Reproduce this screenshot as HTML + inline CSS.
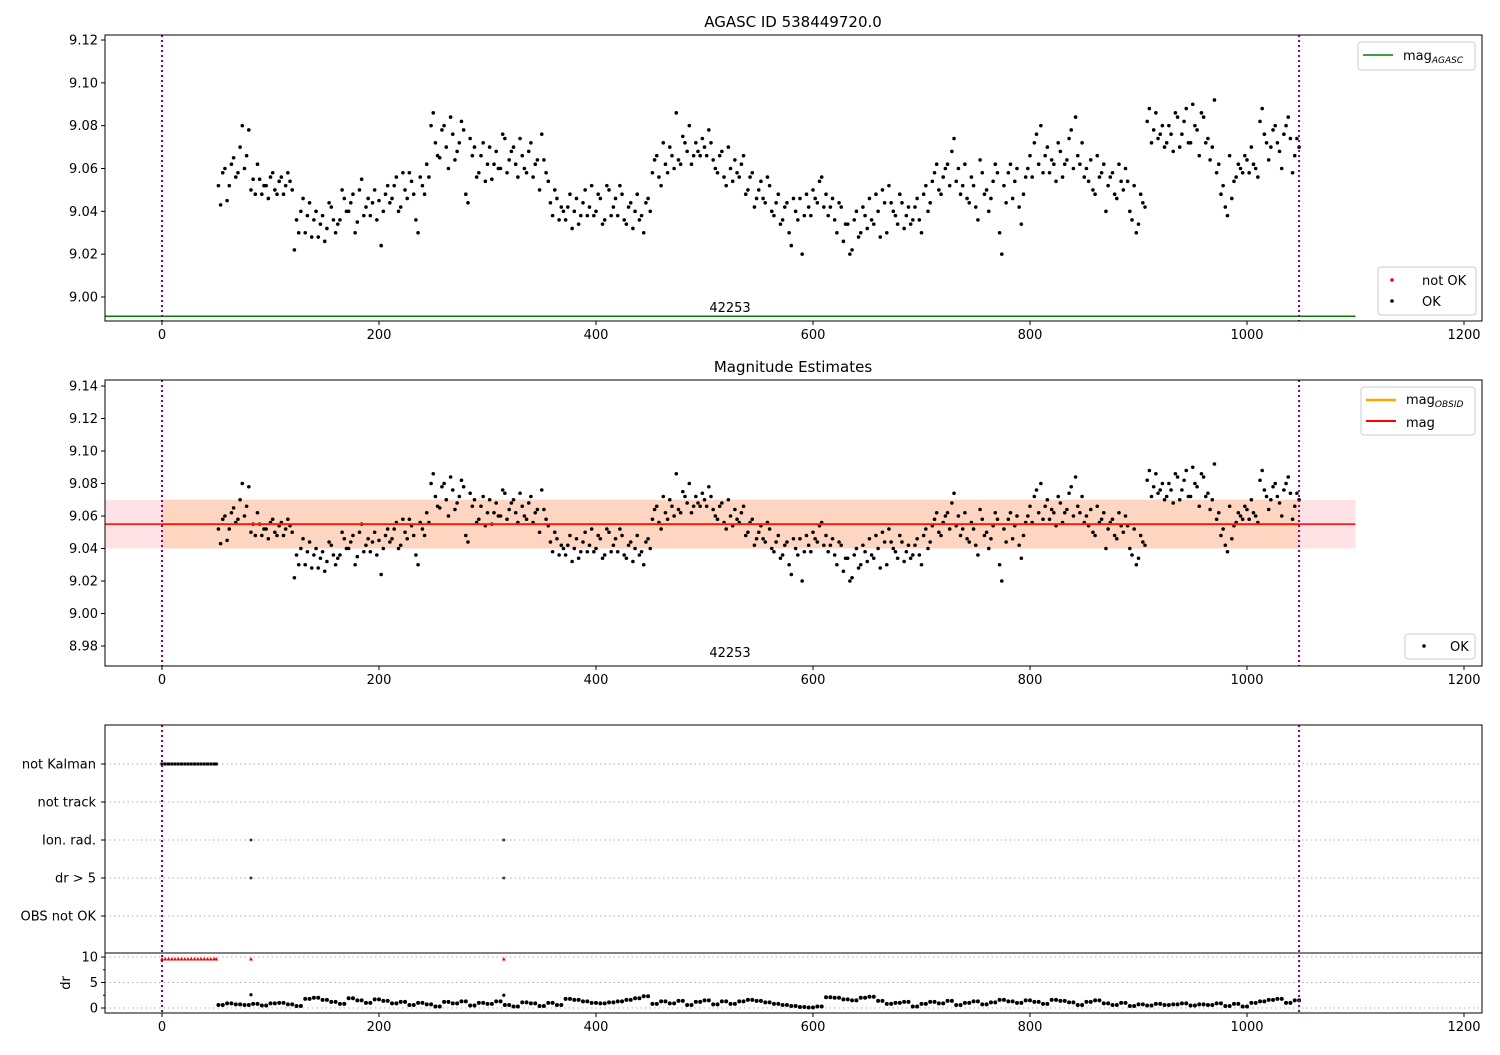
<!DOCTYPE html>
<html><head><meta charset="utf-8"><style>
body{margin:0;background:#fff}
svg text{font-family:"DejaVu Sans","Liberation Sans",sans-serif;font-size:13px;fill:#000}
</style></head><body>
<svg id="c" width="1500" height="1050" xmlns="http://www.w3.org/2000/svg"></svg>
<script>
// data
const magX0 = 52, magStep = 4;
const magOffsets = [
52,58,45,62,56,70,60,78,55,62, 48,52,56,50,54,48,58,50,36,40,
30,44,36,28,38,32,42,30,36,46, 40,48,35,55,42,38,50,45,40,52,
46,56,42,50,58,48,30,52,62,80, 72,65,80,60,76,68,82,48,74,70,
58,72,62,55,68,60,74,64,70,56, 66,58,72,62,50,64,54,38,46,42,
36,48,40,34,44,38,52,40,46,36, 50,42,38,48,34,44,40,36,30,46,
58,66,52,62,70,60,64,75,68,62, 72,66,70,78,64,58,68,52,60,64,
56,66,50,58,46,54,44,52,38,48, 36,44,24,40,46,38,42,50,44,56,
48,42,36,44,26,34,22,40,30,38, 46,34,40,50,30,44,38,48,32,42,
36,46,30,52,44,58,50,56,62,68, 54,48,62,44,52,36,58,50,46,62,
30,52,58,46,60,34,56,66,72,62, 58,70,64,54,68,62,74,60,66,72,
60,64,48,56,62,52,58,46,54,60, 40,52,34,44,82,72,86,76,70,80,
68,84,76,88,72,80,66,84,74,70, 58,48,42,66,54,62,58,64,70,60,
82,76,64,78,72,60,80,74,66,70];
const magX0B = 54;
const magOffsetsB = [
43,60,52,65,58,80,66,50,48,55, 52,46,58,48,56,52,54,22,30,46,
38,28,40,34,26,44,36,34,50,40, 44,30,50,38,46,44,36,24,48,44,
52,40,58,46,54,36,56,48,56,86, 66,78,70,84,64,72,78,44,66,56,
66,54,70,62,60,76,58,68,62,74, 60,68,56,64,76,58,44,50,36,40,
42,32,46,38,50,42,38,48,34,52, 38,46,52,36,42,32,48,38,44,40,
64,56,72,58,66,86,62,72,80,66, 68,74,66,72,60,66,56,70,54,58,
62,48,56,42,50,46,56,40,44,34, 42,30,46,36,20,48,38,46,54,42,
38,46,30,42,34,20,36,28,42,32, 36,48,28,44,52,40,34,44,38,34,
42,36,48,40,54,62,48,60,52,74, 60,52,46,56,42,64,48,40,54,58,
20,44,62,54,42,48,60,56,76,80, 66,58,62,72,56,64,78,84,62,56,
54,50,66,58,40,56,48,62,50,54, 36,30,48,42,88,78,74,80,72,76,
86,70,82,72,90,78,86,72,64,92, 62,52,38,46,56,60,66,58,62,56,
88,72,70,80,68,76,84,58,74];
const drX0 = 52, drStep = 8;
const drValues = [
0.6,0.9,0.7,0.6,0.8,0.5,0.9,1.0,0.7,0.4, 1.8,2.0,1.6,1.2,0.8,1.9,1.5,1.0,1.7,1.4,
0.9,1.2,0.6,1.0,0.7,0.3,1.2,0.9,1.3,0.5, 1.0,0.8,1.3,0.6,0.3,1.1,0.9,0.4,1.0,0.6,
1.8,1.6,1.3,1.0,0.9,1.1,1.3,1.6,1.9,2.3, 0.8,1.3,0.9,1.4,0.6,1.2,1.5,0.7,1.3,0.8,
1.3,1.6,1.4,1.1,0.8,0.6,0.4,0.2,0.1,0.3, 2.1,2.0,1.7,1.5,2.0,2.2,1.4,0.8,1.0,1.2,
0.3,0.8,1.2,0.9,1.4,0.6,1.0,1.3,0.7,1.1, 1.6,1.3,1.0,1.5,1.2,0.8,1.6,1.4,1.1,0.6,
1.2,1.5,0.9,0.6,1.0,0.4,0.7,0.5,0.8,0.6, 0.7,0.9,0.5,0.7,0.6,0.9,0.4,0.8,0.3,1.0,
1.3,1.6,1.8,1.0,1.5];
const kalmanX = [0,3,6,9,12,15,18,21,24,27,30,33,36,39,42,45,48,50];
const outlierX = [82,315];
const outlierDr = [2.6,2.5];
const flagLabels = ["not Kalman","not track","Ion. rad.","dr > 5","OBS not OK"];
const xTicks = [0,200,400,600,800,1000,1200];
const topYTicks = [9.00,9.02,9.04,9.06,9.08,9.10,9.12];
const midYTicks = [8.98,9.00,9.02,9.04,9.06,9.08,9.10,9.12,9.14];
const drTicks = [0,5,10];
const magAgasc = 8.991, magObs = 9.055, magLo = 9.040, magHi = 9.070;
const obsStart = 0, obsEnd = 1048, fullEnd = 1100;

const S = document.getElementById('c'), NS = 'http://www.w3.org/2000/svg';
function el(t, a, p){const e=document.createElementNS(NS,t);for(const k in a)e.setAttribute(k,a[k]);(p||S).appendChild(e);return e;}
const L=105,R=1482;
const X = v => 162 + (v)*1.085;
function yTop(v){return 40+(9.12-v)*2141.7;}
function yMid(v){return 386+(9.14-v)*1625;}
function yDr(v){return 1008-v*5.1;}
function yFlag(i){return 764+i*38;}

function xaxis(yb){
  xTicks.forEach(t=>{el('line',{x1:X(t),x2:X(t),y1:yb,y2:yb+4,stroke:'#000'});
    const tx=el('text',{x:X(t),y:yb+18,'text-anchor':'middle'});tx.textContent=t;
    
    });
}
function frame(top,bot,name){
  const r=el('rect',{x:L,y:top,width:R-L,height:bot-top,fill:'none',stroke:'#000','stroke-width':1});
  
  
}
function vlines(top,bot){
  [obsStart,obsEnd].forEach(v=>{const l=el('line',{x1:X(v),x2:X(v),y1:top,y2:bot,stroke:'#800080','stroke-width':2,'stroke-dasharray':'2,3'});
  
  });
}
function yticks(ticks,fy,fmt){
  ticks.forEach(t=>{const y=fy(t);el('line',{x1:L-4,x2:L,y1:y,y2:y,stroke:'#000'});
   const tx=el('text',{x:L-7,y:y+4.5,'text-anchor':'end'});tx.textContent=fmt(t);
   
   });
}
function legend(x,y,w,h){el('rect',{x:x,y:y,width:w,height:h,rx:3,fill:'#fff',stroke:'#ccc','fill-opacity':0.8});}
function magPoints(fy){
  magOffsets.forEach((o,i)=>{const c=el('circle',{cx:X(magX0+i*magStep),cy:fy(9+o/1000),r:1.8,fill:'#000'});
    
    });
  magOffsetsB.forEach((o,i)=>{const c=el('circle',{cx:X(magX0B+i*magStep),cy:fy(9+o/1000),r:1.8,fill:'#000'});
    
    });
}

// ---- top panel
el('line',{x1:L,x2:X(fullEnd),y1:yTop(magAgasc),y2:yTop(magAgasc),stroke:'green','stroke-width':1.5});
magPoints(yTop);
vlines(35,321); frame(35,321,'agasc-plot-area'); xaxis(321);
yticks(topYTicks,yTop,v=>v.toFixed(2));
let t=el('text',{x:793,y:27,'text-anchor':'middle'});t.textContent='AGASC ID 538449720.0';t.style.fontSize='15px';

t=el('text',{x:730,y:312,'text-anchor':'middle'});t.textContent='42253';
legend(1358,42,117,28);
el('line',{x1:1363,x2:1393,y1:55,y2:55,stroke:'green','stroke-width':1.5});
t=el('text',{x:1403,y:60});t.innerHTML='mag<tspan font-size="9" font-style="italic" dy="3">AGASC</tspan>';

legend(1378,267,98,48);
el('circle',{cx:1392,cy:280,r:1.8,fill:'red'});
el('circle',{cx:1392,cy:301,r:1.8,fill:'#000'});
t=el('text',{x:1422,y:285});t.textContent='not OK';
t=el('text',{x:1422,y:306});t.textContent='OK';

// ---- middle panel
el('rect',{x:L,y:yMid(magHi),width:X(fullEnd)-L,height:yMid(magLo)-yMid(magHi),fill:'#fde3e6'});
el('rect',{x:X(obsStart),y:yMid(magHi),width:X(obsEnd)-X(obsStart),height:yMid(magLo)-yMid(magHi),fill:'#fdd5c0'});
magPoints(yMid);
el('line',{x1:X(obsStart),x2:X(obsEnd),y1:yMid(magObs),y2:yMid(magObs),stroke:'orange','stroke-width':2});
el('line',{x1:L,x2:X(fullEnd),y1:yMid(magObs),y2:yMid(magObs),stroke:'red','stroke-width':1.5});
vlines(380,666); frame(380,666,'estimates-plot-area'); xaxis(666);
yticks(midYTicks,yMid,v=>v.toFixed(2));
t=el('text',{x:793,y:372,'text-anchor':'middle'});t.textContent='Magnitude Estimates';t.style.fontSize='15px';

t=el('text',{x:730,y:657,'text-anchor':'middle'});t.textContent='42253';
legend(1361,387,114,48);
el('line',{x1:1366,x2:1396,y1:400,y2:400,stroke:'orange','stroke-width':2.5});
el('line',{x1:1366,x2:1396,y1:421,y2:421,stroke:'red','stroke-width':2});
t=el('text',{x:1406,y:404});t.innerHTML='mag<tspan font-size="9" font-style="italic" dy="3">OBSID</tspan>';

t=el('text',{x:1406,y:427});t.textContent='mag';
legend(1405,634,70,25);
el('circle',{cx:1424,cy:646,r:1.8,fill:'#000'});
t=el('text',{x:1450,y:651});t.textContent='OK';

// ---- flags panel
flagLabels.forEach((f,i)=>{const y=yFlag(i);
  el('line',{x1:L,x2:R,y1:y,y2:y,stroke:'#b0b0b0','stroke-dasharray':'1.5,3'});
  el('line',{x1:L-4,x2:L,y1:y,y2:y,stroke:'#000'});
  const tx=el('text',{x:L-9,y:y+4.5,'text-anchor':'end'});tx.textContent=f;
  });
kalmanX.forEach(x=>{const c=el('rect',{x:X(x)-1.5,y:yFlag(0)-1.5,width:3,height:3,fill:'#000'});
  });
outlierX.forEach(x=>{[2,3].forEach(i=>{const c=el('rect',{x:X(x)-1.3,y:yFlag(i)-1.3,width:2.6,height:2.6,fill:'#333'});
  });});
// dr panel
drTicks.forEach(d=>{const y=yDr(d);el('line',{x1:L,x2:R,y1:y,y2:y,stroke:'#b0b0b0','stroke-dasharray':'1.5,3'});});
[2.5,7.5].forEach(d=>el('line',{x1:L-2,x2:L,y1:yDr(d),y2:yDr(d),stroke:'#000'}));
yticks(drTicks,yDr,v=>v);
drValues.forEach((v,i)=>{const c=el('circle',{cx:X(drX0+i*drStep),cy:yDr(v),r:2,fill:'#000'});
  
  const c2=el('circle',{cx:X(drX0+i*drStep+4),cy:yDr(v),r:2,fill:'#000'});
  });
outlierX.forEach((x,i)=>{const c=el('circle',{cx:X(x),cy:yDr(outlierDr[i]),r:1.6,fill:'#000'});
  });
kalmanX.concat(outlierX).forEach(x=>{const c=el('path',{d:`M${X(x)-2},${yDr(9.6)+1.5}L${X(x)+2},${yDr(9.6)+1.5}L${X(x)},${yDr(9.6)-2}Z`,fill:'red'});
  });
vlines(725,1013);
frame(725,1013,'flags-plot-area');
el('line',{x1:L,x2:R,y1:953,y2:953,stroke:'#000'});
xaxis(1013);
t=el('text',{x:0,y:0,transform:'translate(70,983) rotate(-90)','text-anchor':'middle'});t.textContent='dr';

</script>
</body></html>
